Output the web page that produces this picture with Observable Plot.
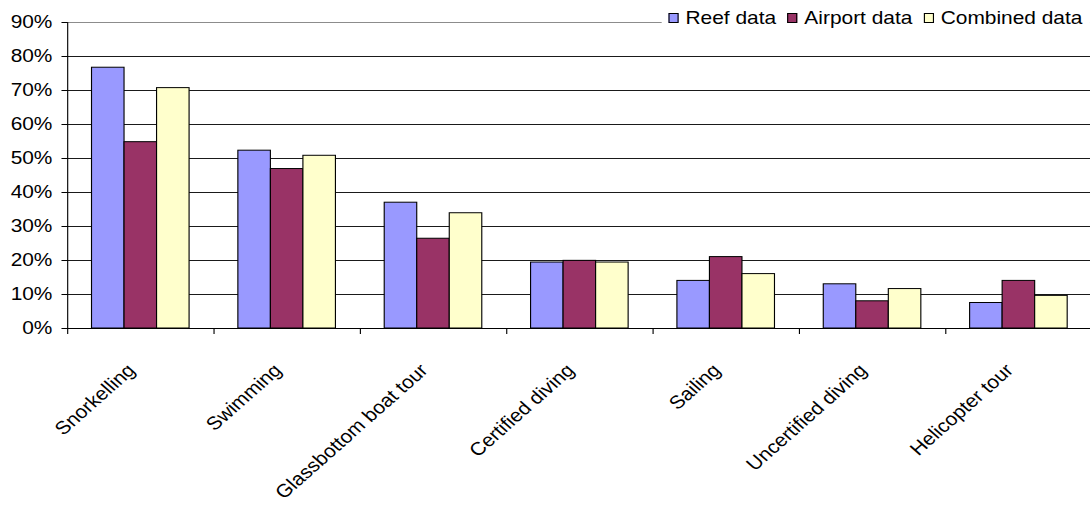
<!DOCTYPE html>
<html>
<head>
<meta charset="utf-8">
<script src="https://cdn.jsdelivr.net/npm/d3@7"></script>
<script src="https://cdn.jsdelivr.net/npm/@observablehq/plot@0.6"></script>
<style>
html, body { margin: 0; padding: 0; background: #fff; }
#wrap { position: relative; width: 1090px; height: 507px; overflow: hidden; background: #fff;
  font-family: "Liberation Sans", Arial, Helvetica, sans-serif; }
#legend { position: absolute; top: 0; right: 0; height: 36px; background: #fff; display: flex;
  align-items: center; padding: 0 7px 0 6px; transform: scaleX(1.13); transform-origin: right top;
  font-size: 18.5px; line-height: 36px; color: #000; white-space: nowrap; }
#legend .item { display: flex; align-items: center; margin-left: 10px; }
#legend .item:first-child { margin-left: 0; }
#legend .sw { width: 9px; height: 10px; border: 1px solid #000; box-sizing: border-box; margin-right: 6px; }
</style>
</head>
<body>
<div id="wrap"><div id="chart"></div><div id="legend"></div></div>
<script>
// ---- data ----
const categories = ["Snorkelling", "Swimming", "Glassbottom boat tour", "Certified diving", "Sailing", "Uncertified diving", "Helicopter tour"];
const seriesNames = ["Reef data", "Airport data", "Combined data"];
const reefData = [76.7, 52.3, 37.0, 19.4, 14.0, 13.0, 7.5];
const airportData = [54.8, 46.9, 26.4, 19.9, 21.0, 8.0, 14.0];
const combinedData = [70.7, 50.8, 33.9, 19.4, 16.0, 11.6, 9.6];
const seriesColors = ["#9999FF", "#993366", "#FFFFCC"];
const yTicks = [0, 0.1, 0.2, 0.3, 0.4, 0.5, 0.6, 0.7, 0.8, 0.9];
const yTickLabels = ["0%", "10%", "20%", "30%", "40%", "50%", "60%", "70%", "80%", "90%"];

// ---- table ----
const seriesValues = [reefData, airportData, combinedData];
const rows = [];
categories.forEach((c, ci) => seriesNames.forEach((s, si) =>
  rows.push({category: c, ci, series: s, si, value: seriesValues[si][ci] / 100})));

const gapWidth = 1.5; // spreadsheet-style gap width (150%)
const slots = seriesNames.length + gapWidth;
const S = 1.13, W = 967, H = 507; // horizontal stretch of the original picture
const font = '"Liberation Sans", Arial, Helvetica, sans-serif';

const chart = Plot.plot({
  width: W, height: H,
  marginLeft: 59.4, marginRight: 1, marginTop: 22, marginBottom: 179,
  style: {fontFamily: font, fontSize: "18.5px", color: "#000", background: "#fff", overflow: "visible"},
  x: {domain: [0, categories.length], axis: null},
  y: {domain: [0, 0.9], axis: null},
  color: {domain: seriesNames, range: seriesColors},
  marks: [
    Plot.ruleY(yTicks.slice(1, -1), {stroke: "#1a1a1a"}),
    Plot.ruleY(yTicks.slice(-1), {stroke: "#8c8c8c"}),
    Plot.rectY(rows, {
      x1: d => d.ci + (gapWidth / 2 + d.si) / slots,
      x2: d => d.ci + (gapWidth / 2 + d.si + 1) / slots,
      y1: 0, y2: "value", fill: "series", stroke: "#000", strokeWidth: 1
    }),
    Plot.ruleY([0], {stroke: "#000"}),
    Plot.ruleX([0], {stroke: "#000"}),
    Plot.axisY({ticks: yTicks, tickSize: 5, tickPadding: 8.5, label: null,
      tickFormat: d => yTickLabels[yTicks.indexOf(d)] ?? `${Math.round(d * 100)}%`}),
    Plot.axisX({ticks: d3.range(categories.length + 1), tickSize: 6, tickFormat: () => "", label: null}),
    Plot.text(categories, {
      x: (d, i) => i + 0.5, y: () => 0, dy: 43, dx: -4, rotate: -45,
      textAnchor: "end", lineAnchor: "bottom", fill: "#000", fontSize: 18.5
    })
  ]
});
chart.setAttribute("preserveAspectRatio", "none");
chart.style.width = (W * S) + "px";
chart.style.height = H + "px";
chart.style.maxWidth = "none";
chart.style.display = "block";
document.getElementById("chart").append(chart);

// ---- legend ----
const legend = document.getElementById("legend");
seriesNames.forEach((s, i) => {
  const item = document.createElement("div");
  item.className = "item";
  const sw = document.createElement("span");
  sw.className = "sw";
  sw.style.background = seriesColors[i];
  const label = document.createElement("span");
  label.textContent = s;
  item.append(sw, label);
  legend.append(item);
});
</script>
</body>
</html>
